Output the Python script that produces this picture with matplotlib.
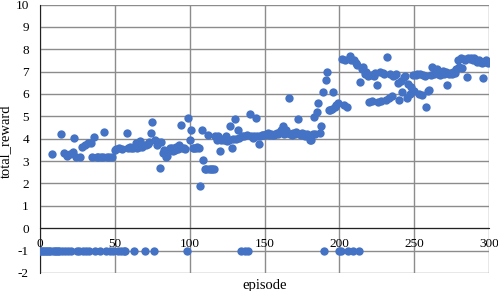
import numpy as np
import matplotlib
matplotlib.use("Agg")
import matplotlib.pyplot as plt

# total reward per episode, episodes 0..299
total_reward = [
    -1, -1, -1, -1, -1, -1, -1, -1, 3.31, -1,
    -1, -1, -1, -1, 4.22, -1, 3.36, -1, 3.25, -1,
    3.3, -1, 3.4, 4.03, 3.18, -1, -1, 3.18, 3.65, -1,
    3.72, -1, 3.8, -1, 3.83, 3.18, 4.07, -1, 3.18, 3.18,
    -1, 3.18, 3.18, 4.32, -1, 3.18, 3.18, -1, 3.2, -1,
    3.5, 3.55, -1, 3.6, -1, 3.55, -1, -1, 4.25, 3.6,
    3.62, 3.58, 3.6, -1, 3.8, 3.6, 3.62, 3.9, 3.65, 3.7,
    -1, 3.72, 3.75, 3.85, 4.25, 4.77, -1, 3.95, 3.7, 3.85,
    2.69, 3.85, 3.36, 3.5, 3.2, 3.25, 3.5, 3.57, 3.6, 3.45,
    3.5, 3.62, 3.55, 3.72, 4.62, 3.57, 3.6, 3.55, -1, 4.92,
    3.95, 4.4, 3.57, 3.6, 3.57, 3.62, 3.57, 1.9, 4.4, 3.03,
    2.65, 2.65, 4.17, 2.65, 2.65, 2.65, 2.65, 4.1, 3.95, 4.1,
    3.46, 3.95, 4.0, 3.95, 4.1, 3.9, 3.95, 4.55, 3.6, 4.0,
    4.87, 4.0, 4.4, 4.05, -1, 4.1, 4.1, -1, 4.15, -1,
    5.1, 4.1, 4.05, 4.1, 4.92, 4.1, 3.78, 4.1, 4.15, 4.17,
    4.17, 4.2, 4.25, 4.17, 4.2, 4.15, 4.17, 4.2, 4.25, 4.2,
    4.3, 4.4, 4.55, 4.2, 4.4, 4.25, 5.84, 4.2, 4.15, 4.25,
    4.2, 4.3, 4.89, 4.2, 4.15, 4.25, 4.2, 4.1, 4.2, 4.15,
    3.95, 3.95, 4.2, 4.99, 4.2, 5.2, 5.59, 4.25, 4.55, 6.1,
    -1, 6.63, 7.0, 5.29, 5.3, 5.35, 6.1, 5.4, 5.5, 5.6,
    -1, -1, 7.55, 5.51, 7.5, 5.4, -1, 7.71, 7.5, -1,
    7.5, 7.4, 7.3, -1, 6.53, 7.1, 7.2, 6.9, 7.0, 6.8,
    5.66, 6.85, 5.7, 6.8, 6.93, 6.4, 5.62, 7.0, 5.7, 6.95,
    6.9, 5.75, 7.67, 5.8, 6.9, 5.9, 6.8, 6.85, 6.9, 6.5,
    5.74, 6.6, 6.07, 6.75, 6.8, 5.8, 6.45, 6.0, 6.3, 6.85,
    6.15, 6.85, 6.9, 6.0, 6.9, 5.95, 6.85, 6.8, 5.44, 6.15,
    6.2, 6.85, 7.22, 6.9, 6.95, 7.1, 6.9, 6.85, 6.9, 7.05,
    6.9, 7.0, 6.4, 6.9, 6.95, 6.9, 7.0, 6.95, 7.1, 7.52,
    7.22, 7.6, 7.15, 7.55, 7.5, 6.78, 7.6, 7.55, 7.6, 7.5,
    7.6, 7.52, 7.45, 7.5, 7.45, 7.4, 6.7, 7.45, 7.5, 7.4,
]
episode = np.arange(len(total_reward))

xticks = [0, 50, 100, 150, 200, 250, 300]
yticks = list(range(-2, 11))

plt.rcParams['font.family'] = ['Liberation Serif', 'DejaVu Serif']
plt.rcParams['axes.unicode_minus'] = False

fig = plt.figure(figsize=(4.98, 2.91), dpi=100)
ax = fig.add_axes([0.0803, 0.062, 0.902, 0.9225])

ax.scatter(episode, total_reward, s=36, color='#4472C4', zorder=3, linewidths=0)

ax.set_xlim(0, 300)
ax.set_ylim(-2, 10)
ax.set_xticks(xticks)
ax.set_yticks(yticks)
ax.grid(True, color='#8c8c8c', linewidth=1.0)
ax.set_axisbelow(True)

for s in ['top', 'right']:
    ax.spines[s].set_visible(False)
ax.spines['bottom'].set_position(('data', 0))
ax.spines['bottom'].set_color('#222222')
ax.spines['left'].set_color('#222222')
ax.tick_params(length=0, labelsize=9.5)
ax.tick_params(axis='y', pad=8)
ax.tick_params(axis='x', pad=7)

ax.set_xlabel('episode', fontsize=10.5, va='center')
ax.xaxis.set_label_coords(0.5, -0.045)
ax.set_ylabel('total_reward', fontsize=10.5, va='center')
ax.yaxis.set_label_coords(-0.076, 0.49)

fig.savefig('out.png', dpi=100)
